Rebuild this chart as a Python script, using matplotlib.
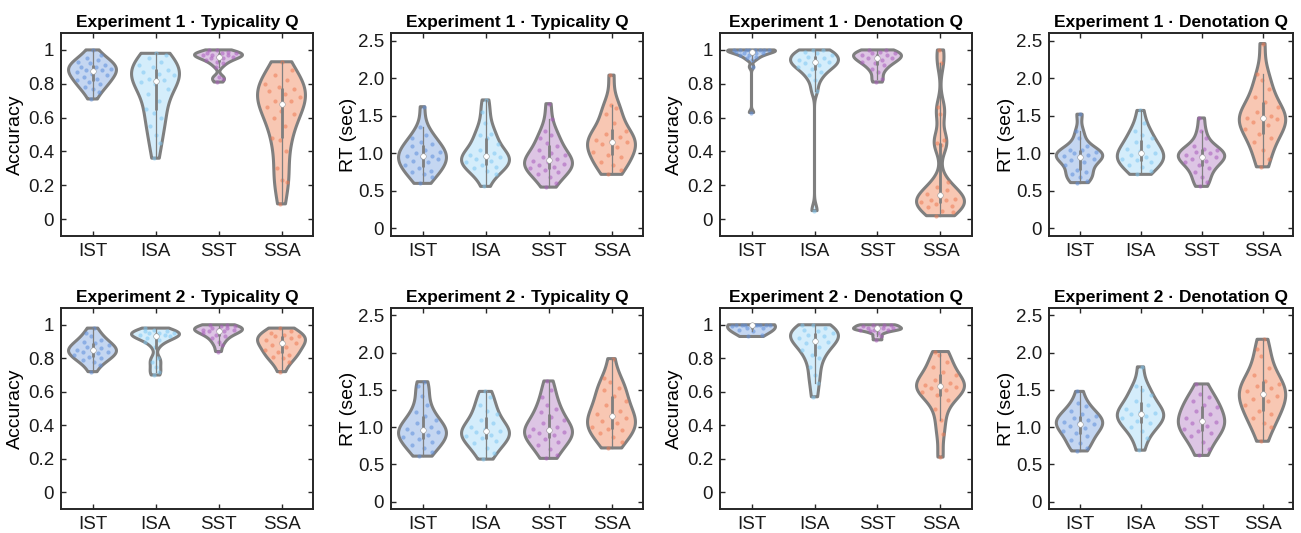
import numpy as np
import matplotlib
matplotlib.use("Agg")
from matplotlib import pyplot as plt

plt.rcParams['font.family'] = ['Liberation Sans', 'DejaVu Sans']

groups = ["IST", "ISA", "SST", "SSA"]
fill_colors = ["#c4d6f1", "#d4edfb", "#ddc5e4", "#f8c7b3"]
dot_colors = ["#5f8fdc", "#7fc8f2", "#a95cbc", "#ee7b55"]

titles = ["Experiment 1 \u00b7 Typicality Q", "Experiment 1 \u00b7 Typicality Q",
          "Experiment 1 \u00b7 Denotation Q", "Experiment 1 \u00b7 Denotation Q",
          "Experiment 2 \u00b7 Typicality Q", "Experiment 2 \u00b7 Typicality Q",
          "Experiment 2 \u00b7 Denotation Q", "Experiment 2 \u00b7 Denotation Q"]
measures = ["acc", "rt", "acc", "rt", "acc", "rt", "acc", "rt"]

# values, one list per violin (IST, ISA, SST, SSA)
exp1_typ_acc = [
    [0.71, 0.75, 0.77, 0.78, 0.80, 0.81, 0.82, 0.83, 0.84, 0.85, 0.86, 0.87, 0.88, 0.88,
     0.89, 0.90, 0.90, 0.91, 0.92, 0.93, 0.94, 0.95, 0.97, 1.00],
    [0.36, 0.45, 0.50, 0.55, 0.60, 0.63, 0.65, 0.70, 0.74, 0.77, 0.80, 0.81, 0.82, 0.83,
     0.85, 0.86, 0.87, 0.88, 0.90, 0.91, 0.93, 0.95, 0.97, 0.98],
    [0.81, 0.83, 0.84, 0.90, 0.92, 0.93, 0.94, 0.95, 0.95, 0.96, 0.96, 0.97, 0.97, 0.97,
     0.98, 0.98, 0.98, 0.99, 1.00, 1.00],
    [0.09, 0.22, 0.23, 0.30, 0.40, 0.47, 0.48, 0.55, 0.60, 0.62, 0.64, 0.66, 0.70, 0.70,
     0.72, 0.74, 0.76, 0.77, 0.78, 0.80, 0.82, 0.85, 0.88, 0.93],
]
exp1_typ_rt = [
    [0.60, 0.68, 0.72, 0.75, 0.77, 0.80, 0.84, 0.88, 0.90, 0.93, 0.95, 0.96, 0.97, 1.00,
     1.02, 1.05, 1.10, 1.13, 1.15, 1.20, 1.25, 1.35, 1.62],
    [0.56, 0.72, 0.77, 0.80, 0.82, 0.85, 0.88, 0.90, 0.92, 0.95, 0.97, 0.98, 1.00, 1.05,
     1.12, 1.20, 1.25, 1.26, 1.40, 1.55, 1.71],
    [0.55, 0.60, 0.68, 0.72, 0.75, 0.78, 0.80, 0.82, 0.84, 0.86, 0.88, 0.90, 0.93, 0.95,
     0.98, 1.00, 1.05, 1.10, 1.14, 1.20, 1.25, 1.30, 1.45, 1.66],
    [0.72, 0.78, 0.84, 0.88, 0.95, 0.98, 1.02, 1.08, 1.12, 1.15, 1.16, 1.18, 1.22, 1.26,
     1.30, 1.40, 1.52, 1.60, 1.64, 2.04],
]
exp1_den_acc = [
    [0.63, 0.90, 0.94, 0.95, 0.96, 0.97, 0.97, 0.98, 0.98, 0.98, 0.99, 0.99, 1.00, 1.00,
     1.00, 1.00, 1.00, 1.00, 1.00, 1.00],
    [0.05, 0.76, 0.82, 0.85, 0.87, 0.89, 0.90, 0.91, 0.92, 0.93, 0.93, 0.94, 0.95, 0.96,
     0.97, 0.98, 0.99, 1.00, 1.00],
    [0.81, 0.83, 0.87, 0.89, 0.91, 0.92, 0.93, 0.94, 0.95, 0.95, 0.96, 0.97, 0.97, 0.98,
     0.98, 0.99, 1.00, 1.00],
    [0.02, 0.04, 0.05, 0.07, 0.08, 0.09, 0.10, 0.11, 0.11, 0.12, 0.13, 0.15, 0.17, 0.19,
     0.22, 0.44, 0.45, 0.47, 0.62, 0.66, 0.92, 1.00],
]
exp1_den_rt = [
    [0.61, 0.63, 0.68, 0.72, 0.75, 0.78, 0.85, 0.88, 0.91, 0.93, 0.95, 0.96, 0.98, 1.00,
     1.02, 1.04, 1.05, 1.10, 1.20, 1.30, 1.52],
    [0.72, 0.76, 0.82, 0.85, 0.88, 0.91, 0.93, 0.95, 0.98, 1.01, 1.03, 1.06, 1.10, 1.15,
     1.20, 1.25, 1.30, 1.40, 1.57],
    [0.56, 0.62, 0.68, 0.75, 0.80, 0.84, 0.88, 0.90, 0.93, 0.95, 0.96, 0.98, 1.00, 1.02,
     1.05, 1.06, 1.10, 1.20, 1.30, 1.47],
    [0.82, 0.92, 1.05, 1.15, 1.20, 1.26, 1.32, 1.38, 1.42, 1.45, 1.47, 1.47, 1.50, 1.55,
     1.62, 1.68, 1.75, 1.85, 1.98, 2.06, 2.46],
]
exp2_typ_acc = [
    [0.72, 0.76, 0.78, 0.79, 0.80, 0.81, 0.82, 0.83, 0.84, 0.84, 0.85, 0.85, 0.86, 0.87,
     0.88, 0.89, 0.90, 0.91, 0.93, 0.95, 0.98],
    [0.70, 0.72, 0.75, 0.78, 0.80, 0.87, 0.90, 0.91, 0.92, 0.93, 0.93, 0.94, 0.94, 0.95,
     0.95, 0.95, 0.96, 0.96, 0.97, 0.98],
    [0.84, 0.88, 0.90, 0.92, 0.93, 0.94, 0.95, 0.96, 0.96, 0.97, 0.97, 0.97, 0.98, 0.98,
     0.99, 0.99, 1.00, 1.00],
    [0.72, 0.78, 0.80, 0.81, 0.82, 0.84, 0.85, 0.87, 0.88, 0.89, 0.90, 0.91, 0.92, 0.93,
     0.93, 0.94, 0.95, 0.96, 0.98],
]
exp2_typ_rt = [
    [0.61, 0.67, 0.72, 0.76, 0.80, 0.84, 0.87, 0.90, 0.92, 0.94, 0.96, 0.98, 1.00, 1.05,
     1.10, 1.15, 1.20, 1.30, 1.42, 1.55, 1.61],
    [0.57, 0.65, 0.72, 0.78, 0.82, 0.85, 0.88, 0.90, 0.93, 0.95, 0.97, 1.00, 1.05, 1.10,
     1.18, 1.22, 1.30, 1.40, 1.48],
    [0.58, 0.63, 0.70, 0.76, 0.80, 0.84, 0.88, 0.90, 0.92, 0.93, 0.96, 0.97, 1.00, 1.05,
     1.10, 1.13, 1.20, 1.25, 1.30, 1.40, 1.50, 1.62],
    [0.72, 0.80, 0.87, 0.92, 0.96, 0.98, 1.00, 1.05, 1.08, 1.12, 1.15, 1.18, 1.22, 1.30,
     1.35, 1.42, 1.50, 1.52, 1.60, 1.66, 1.92],
]
exp2_den_acc = [
    [0.93, 0.94, 0.96, 0.97, 0.98, 0.98, 0.99, 1.00, 1.00, 1.00, 1.00, 1.00, 1.00, 1.00,
     1.00, 1.00],
    [0.57, 0.65, 0.70, 0.75, 0.80, 0.82, 0.85, 0.87, 0.89, 0.90, 0.91, 0.92, 0.93, 0.94,
     0.95, 0.96, 0.97, 0.98, 1.00, 1.00],
    [0.91, 0.93, 0.95, 0.96, 0.97, 0.97, 0.97, 0.98, 0.98, 0.98, 0.99, 0.99, 1.00, 1.00,
     1.00],
    [0.21, 0.35, 0.43, 0.50, 0.55, 0.58, 0.60, 0.61, 0.62, 0.63, 0.64, 0.64, 0.65, 0.67,
     0.70, 0.72, 0.75, 0.78, 0.82, 0.84],
]
exp2_den_rt = [
    [0.68, 0.72, 0.78, 0.83, 0.88, 0.92, 0.95, 0.99, 1.02, 1.04, 1.05, 1.07, 1.10, 1.12,
     1.15, 1.17, 1.22, 1.28, 1.33, 1.48],
    [0.69, 0.85, 0.95, 1.00, 1.05, 1.08, 1.12, 1.15, 1.17, 1.19, 1.20, 1.25, 1.30, 1.35,
     1.43, 1.50, 1.55, 1.81],
    [0.62, 0.70, 0.80, 0.88, 0.92, 0.95, 0.98, 1.02, 1.05, 1.07, 1.10, 1.12, 1.18, 1.22,
     1.27, 1.30, 1.35, 1.40, 1.45, 1.58],
    [0.81, 1.00, 1.05, 1.12, 1.18, 1.22, 1.30, 1.35, 1.38, 1.42, 1.45, 1.48, 1.52, 1.55,
     1.58, 1.62, 1.70, 1.80, 1.95, 2.05, 2.18],
]

panels = [exp1_typ_acc, exp1_typ_rt, exp1_den_acc, exp1_den_rt,
          exp2_typ_acc, exp2_typ_rt, exp2_den_acc, exp2_den_rt]

# axes boxes in pixels (left, right) per column and (top, bottom) per row
W, H = 1301, 533
cols = [(61, 313), (391, 643), (720, 972), (1049, 1293)]
rows = [(33, 236), (308, 509)]
ylab_x = [-0.182, -0.167, -0.179, -0.176]

HALF = 0.38
edge = "#7f7f7f"


def kde(data, grid):
    # gaussian kernel, bandwidth picked like matlab's ksdensity
    x = np.asarray(data)
    n = len(x)
    sig = np.median(np.abs(x - np.median(x))) / 0.6745
    if sig <= 0:
        sig = x.max() - x.min()
    bw = sig * (4.0 / (3.0 * n)) ** 0.2
    d = np.exp(-0.5 * ((grid[:, None] - x[None, :]) / bw) ** 2).sum(axis=1)
    return d


def violin(ax, pos, data, fc, dc):
    data = np.sort(np.asarray(data, dtype=float))
    lo, hi = data.min(), data.max()
    grid = np.linspace(lo, hi, 300)
    dens = kde(data, grid)
    dens = dens / dens.max() * HALF
    xs = np.concatenate([pos + dens, (pos - dens)[::-1]])
    ys = np.concatenate([grid, grid[::-1]])
    ax.fill(xs, ys, facecolor=fc, edgecolor=edge, linewidth=2.2, zorder=2,
            joinstyle="round")
    # points, spread across the local violin width
    strength = np.interp(data, grid, dens)
    jit = ((np.arange(len(data)) * 0.6180339887 + 0.31) % 1.0) * 2 - 1
    ax.scatter(pos + 0.85 * jit * strength, data, s=9, color=dc, alpha=0.55,
               linewidths=0, zorder=3)
    q1, med, q3 = np.percentile(data, [25, 50, 75])
    iqr = q3 - q1
    wlo = data[data >= q1 - 1.5 * iqr].min()
    whi = data[data <= q3 + 1.5 * iqr].max()
    ax.plot([pos, pos], [wlo, whi], color=edge, lw=0.9, zorder=4)
    ax.plot([pos, pos], [q1, q3], color=edge, lw=2.0, zorder=4, solid_capstyle="butt")
    ax.scatter([pos], [med], s=16, color="white", edgecolors="#9a9a9a",
               linewidths=0.4, zorder=5)


fig = plt.figure(figsize=(W / 100, H / 100), dpi=100)

for k, (vals, title, meas) in enumerate(zip(panels, titles, measures)):
    r, c = divmod(k, 4)
    x0, x1 = cols[c]
    y0, y1 = rows[r]
    ax = fig.add_axes([x0 / W, 1 - y1 / H, (x1 - x0) / W, (y1 - y0) / H])
    for i, d in enumerate(vals):
        violin(ax, i + 1, d, fill_colors[i], dot_colors[i])
    ax.set_xlim(0.5, 4.5)
    ax.set_xticks([1, 2, 3, 4])
    ax.set_xticklabels(groups)
    if meas == "acc":
        ax.set_ylim(-0.1, 1.1)
        ax.set_yticks([0, 0.2, 0.4, 0.6, 0.8, 1])
        ax.set_yticklabels(["0", "0.2", "0.4", "0.6", "0.8", "1"])
        ax.set_ylabel("Accuracy", fontsize=14)
    else:
        ax.set_ylim(-0.1, 2.6)
        ax.set_yticks([0, 0.5, 1.0, 1.5, 2.0, 2.5])
        ax.set_yticklabels(["0", "0.5", "1.0", "1.5", "2.0", "2.5"])
        ax.set_ylabel("RT (sec)", fontsize=14)
    ax.yaxis.label.set_va("center")
    ax.yaxis.set_label_coords(ylab_x[c], 0.5)
    ax.set_title(title, fontsize=12.5, fontweight="bold", pad=4)
    ax.tick_params(direction="in", top=True, right=True, length=3.5, width=1,
                   labelsize=13.5, color="#262626", labelcolor="#1a1a1a", pad=5)
    for s in ax.spines.values():
        s.set_linewidth(1.4)
        s.set_color("#262626")

fig.savefig("out.png", dpi=100)
